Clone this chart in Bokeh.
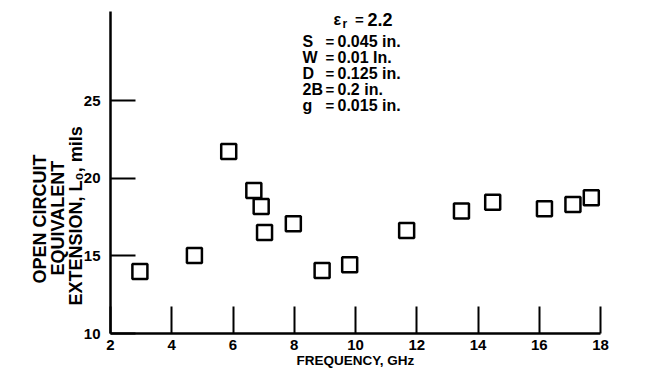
from bokeh.plotting import figure
from bokeh.models import Label, FixedTicker, Range1d, Title
from bokeh.embed import file_html
from bokeh.resources import INLINE

# data
freq_ghz = [2.96, 4.74, 5.86, 6.68, 6.92, 7.03, 7.97, 8.91, 9.81, 11.67, 13.46, 14.48, 16.17, 17.10, 17.70]
extension_mils = [13.99, 15.02, 21.72, 19.21, 18.18, 16.50, 17.06, 14.06, 14.42, 16.63, 17.88, 18.45, 18.03, 18.31, 18.74]
x_ticks = [2, 4, 6, 8, 10, 12, 14, 16, 18]
y_ticks = [10, 15, 20, 25]
param_names = ["S", "W", "D", "2B", "g"]
param_values = ["0.045 in.", "0.01 In.", "0.125 in.", "0.2 in.", "0.015 in."]

FONT = "Liberation Sans"

p = figure(width=629, height=371, output_backend="svg", toolbar_location=None,
           x_range=Range1d(2, 18), y_range=Range1d(10, 30.73),
           min_border_left=110, min_border_right=29, min_border_top=11, min_border_bottom=38)
p.outline_line_color = None
p.grid.visible = False
p.background_fill_color = "white"
p.border_fill_color = "white"

p.scatter(freq_ghz, extension_mils, marker="square", size=15, fill_color=None,
          line_color="black", line_width=2.5)

for ax in (p.xaxis[0], p.yaxis[0]):
    ax.axis_line_width = 2.5
    ax.axis_line_color = "black"
    ax.major_tick_line_width = 2
    ax.major_tick_line_color = "black"
    ax.major_tick_out = 0
    ax.minor_tick_line_color = None
    ax.major_label_text_font = FONT
    ax.major_label_text_font_style = "bold"
    ax.major_label_text_font_size = "15px"
    ax.major_label_text_color = "black"

p.xaxis[0].ticker = FixedTicker(ticks=x_ticks)
p.xaxis[0].major_tick_in = 27
p.xaxis[0].major_label_standoff = 6
p.xaxis[0].axis_label = "FREQUENCY, GHz"
p.xaxis[0].axis_label_standoff = 0
p.xaxis[0].axis_label_text_font = FONT
p.xaxis[0].axis_label_text_font_size = "13.5px"
p.xaxis[0].axis_label_text_font_style = "bold"
p.xaxis[0].axis_label_text_color = "black"

p.yaxis[0].ticker = FixedTicker(ticks=y_ticks)
p.yaxis[0].major_tick_in = 25
p.yaxis[0].major_label_standoff = 10

# y axis title: three rotated lines in the left panel (start = bottom end of each line)
frame_bottom = 333
ylines = [("EXTENSION, L\u2080, mils", 305, -12), ("EQUIVALENT", 275, 4), ("OPEN CIRCUIT", 283, -12)]
for t, start, so in ylines:
    p.add_layout(Title(text=t, text_font=FONT, text_font_size="18px", text_font_style="bold",
                       text_color="black", align="left", vertical_align="middle", standoff=so,
                       offset=frame_bottom - start), "left")

def xd(px):
    return 2 + (px - 110) / 30.625

def yd(py):
    return 10 + (333 - py) / 15.53

def lab(x, y, text, size="16px", align="left"):
    p.add_layout(Label(x=x, y=y, text=text, text_font=FONT, text_font_size=size,
                       text_font_style="bold", text_align=align, text_baseline="middle",
                       text_color="black"))

# parameter block
lab(xd(333), yd(19), "\u03b5")
lab(xd(342), yd(24), "r", size="12px")
lab(xd(359), yd(19), "=", size="15px", align="center")
lab(xd(367), yd(19), "2.2", size="18px")
for i, (n, v) in enumerate(zip(param_names, param_values)):
    yy = yd(41 + 16 * i)
    lab(xd(302), yy, n)
    lab(xd(329.5), yy, "=", size="15px", align="center")
    lab(xd(337), yy, v)

open("out.html", "w").write(file_html(p, INLINE))
